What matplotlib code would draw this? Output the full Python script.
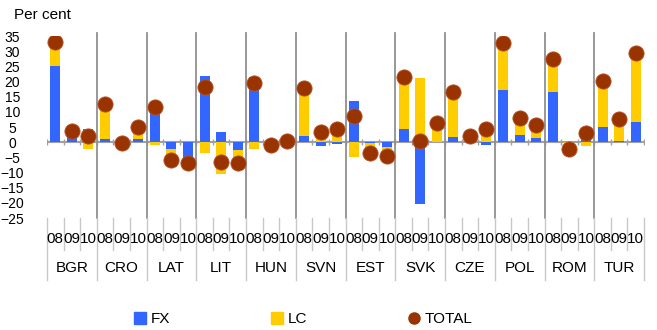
import numpy as np
import matplotlib.pyplot as plt
from matplotlib.lines import Line2D
from matplotlib.transforms import blended_transform_factory

plt.rcParams["font.family"] = ["Liberation Sans", "DejaVu Sans"]

countries = ["BGR", "CRO", "LAT", "LIT", "HUN", "SVN", "EST", "SVK", "CZE", "POL", "ROM", "TUR"]
years = ["08", "09", "10"]

# per cent contributions, country by country (08, 09, 10)
fx = [25.0, 3.5, 4.2,   1.0, 0.0, 1.0,    12.5, -2.1, -6.8,
      21.8, 3.5, -2.7,  21.5, 0.0, 0.3,   2.0, -1.3, -0.6,
      13.7, -0.4, -1.6, 4.2, -20.5, 0.0,  1.6, 0.0, -0.8,
      17.1, 2.5, 1.3,   16.7, 0.0, 1.5,   4.9, 0.3, 6.8]
lc = [8.0, 0.0, -2.4,   11.6, -0.3, 4.0,  -1.0, -4.0, -0.3,
      -3.7, -10.6, -4.2, -2.2, -1.0, 0.2, 16.0, 4.8, 4.8,
      -5.0, -3.2, -3.0, 17.2, 21.0, 6.2,  15.0, 2.1, 5.3,
      15.5, 5.6, 4.5,   10.8, -2.2, -1.3, 15.3, 7.2, 22.7]
total = [33.0, 3.8, 2.0,   12.6, -0.2, 5.0,  11.5, -5.9, -7.0,
         18.2, -6.6, -7.0, 19.6, -1.0, 0.5,  17.9, 3.4, 4.2,
         8.6, -3.5, -4.6,  21.4, 0.5, 6.2,   16.6, 2.1, 4.5,
         32.6, 8.1, 5.8,   27.5, -2.2, 3.1,  20.2, 7.5, 29.5]

fx = np.array(fx)
lc = np.array(lc)
x = np.arange(len(fx))

blue = "#3366FF"
yellow = "#FFCC00"
brown = "#993300"

fig = plt.figure(figsize=(6.57, 3.30), dpi=100)
ax = fig.add_axes([47 / 657, 1 - 218 / 330, 597 / 657, 182 / 330])

# excel-style stacking: positives build up from 0, negatives build down
fx_bottom = np.zeros_like(fx)
lc_bottom = np.where((lc >= 0) == (fx >= 0), fx, 0.0)
lc_bottom = np.where(fx == 0, 0.0, lc_bottom)
ax.bar(x, fx, 0.6, bottom=fx_bottom, color=blue, zorder=2)
ax.bar(x, lc, 0.6, bottom=lc_bottom, color=yellow, zorder=2)
ax.scatter(x, total, s=120, color=brown, edgecolor="#b5532a", linewidth=0.6, zorder=4)

ax.set_xlim(-0.5, len(x) - 0.5)
ax.set_ylim(-25, 35)
ax.set_yticks(np.arange(-25, 36, 5))
ax.tick_params(axis="y", length=0, labelsize=10, pad=25)
for lab in ax.get_yticklabels():
    lab.set_horizontalalignment("center")
ax.set_xticks([])
for side in ["left", "right", "top", "bottom"]:
    ax.spines[side].set_visible(False)

# zero line with small ticks at every bar boundary
bounds = np.arange(-0.5, len(x), 1.0)
ax.axhline(0, color="#a0a0a0", linewidth=1.5, zorder=1)
ax.plot(bounds, np.zeros_like(bounds), linestyle="none", marker="|",
        markersize=5, color="#a0a0a0", zorder=1)

# country separators inside the plot
for b in bounds[3:-1:3]:
    ax.plot([b, b], [-25, 36], color="#909090", linewidth=1.3, zorder=1, clip_on=False)

# two-level category axis under the plot
trans = blended_transform_factory(ax.transData, fig.transFigure)
y_top = 1 - 218 / 330
for i, b in enumerate(bounds):
    y_end = 1 - 280 / 330 if i % 3 == 0 else 1 - 250 / 330
    ax.plot([b, b], [y_top, y_end], color="#c8c8c8", linewidth=1.0,
            transform=trans, clip_on=False)
for i in x:
    ax.text(i, 1 - 239 / 330, years[i % 3], transform=trans, ha="center",
            va="center", fontsize=11)
for k, c in enumerate(countries):
    ax.text(3 * k + 1, 1 - 268 / 330, c, transform=trans, ha="center",
            va="center", fontsize=11)

fig.text(14 / 657, 1 - 15 / 330, "Per cent", ha="left", va="center", fontsize=11)

handles = [
    Line2D([], [], linestyle="none", marker="s", markersize=8, color=blue),
    Line2D([], [], linestyle="none", marker="s", markersize=8, color=yellow),
    Line2D([], [], linestyle="none", marker="o", markersize=8, color=brown),
]
fig.legend(handles, ["FX", "LC", "TOTAL"], ncol=3, frameon=False,
           loc="center", bbox_to_anchor=(303 / 657, 1 - 319 / 330),
           fontsize=11, handlelength=0.8, handletextpad=0.3, columnspacing=6.6)

fig.savefig("out.png", dpi=100)
